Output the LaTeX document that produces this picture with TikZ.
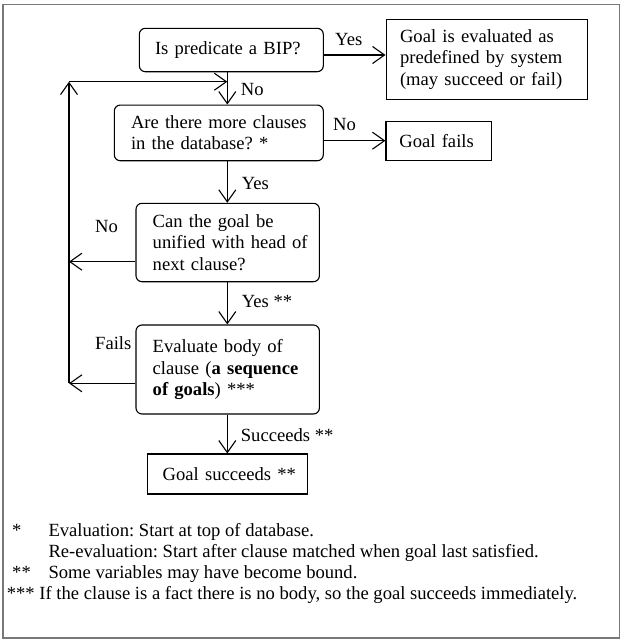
\documentclass[tikz,border=0pt]{standalone}
\usepackage{fontspec}
\setmainfont{Liberation Serif}
\usetikzlibrary{arrows.meta,calc}
\frenchspacing
\newcommand{\ml}[1]{\mbox{#1}}
\tikzset{
  rbox/.style={draw, line width=1.1pt, rounded corners=6pt, align=left, inner ysep=0pt, anchor=center},
  sbox/.style={draw, line width=1.1pt, align=left, inner ysep=0pt, anchor=center},
  arr/.style={line width=1.1pt, -{Straight Barb[length=12pt,width=17pt,line width=1.1pt]}},
  lbl/.style={anchor=west, inner sep=0pt},
  fn/.style={anchor=base west, inner sep=0pt},
}
\begin{document}
\begin{tikzpicture}[x=1pt,y=-1pt, font=\fontsize{18.6}{21.5}\selectfont]
\useasboundingbox (0,0) rectangle (624,643);
\draw[line width=1.5pt, color={rgb,255:red,120;green,120;blue,120}] (3,4.5) rectangle (619.5,638);

\coordinate (spine) at (227.3,0);
\coordinate (loopx) at (69,0);

\node[rbox, text width=152.6pt, inner xsep=15.7pt, minimum height=43.4pt] (b1) at (231.3,50) {\ml{Is predicate a BIP?}};
\node[rbox, text width=175.6pt, inner xsep=16.7pt, minimum height=55.7pt] (b2) at (218.8,132.9) {\ml{Are there more clauses}\\\ml{in the database? *}};
\node[sbox, text width=173.3pt, inner xsep=14pt, minimum height=80.3pt] (b3) at (486.7,59.2) {\ml{Goal is evaluated as}\\\ml{predefined by system}\\\ml{(may succeed or fail)}};
\node[sbox, text width=78.7pt, inner xsep=13.5pt, minimum height=39pt] (b4) at (438.8,141.2) {\ml{Goal fails}};
\node[rbox, text width=150pt, inner xsep=16.7pt, minimum height=78.4pt] (b5) at (227.7,242.5) {\ml{Can the goal be}\\\ml{unified with head of}\\\ml{next clause?}};
\node[rbox, text width=150pt, inner xsep=16.7pt, minimum height=89pt] (b6) at (227.7,369.5) {\ml{Evaluate body of}\\\ml{clause (\textbf{a sequence}}\\\ml{\textbf{of goals}) ***}};
\node[sbox, text width=129.6pt, inner xsep=15pt, minimum height=40pt] (b7) at (227.5,474) {\ml{Goal succeeds **}};

% main spine
\draw[arr] (b1.south -| spine) -- (b2.north -| spine);
\draw[arr] (b2.south -| spine) -- (b5.north -| spine);
\draw[arr] (b5.south -| spine) -- (b6.north -| spine);
\draw[arr] (b6.south -| spine) -- (b7.north -| spine);

% right branches
\draw[arr] ([yshift=-5pt]b1.east) coordinate (y1) -- (y1 -| b3.west);
\draw[arr] ([yshift=-7.8pt]b2.east) coordinate (y2) -- (y2 -| b4.west);

% loop back
\coordinate (l5) at ([yshift=-19.2pt]b5.west);
\coordinate (l6) at ([yshift=-13.8pt]b6.west);
\coordinate (looptop) at (69,81.7);
\draw[arr] (l5) -- (l5 -| loopx);
\draw[arr] (l6) -- (l6 -| loopx);
\draw[arr] (l6 -| loopx) -- (looptop);
\draw[arr] (looptop) -- (looptop -| spine);

% labels
\node[lbl] (t1) at (335,39) {Yes};
\node[lbl] (t2) at (240.7,89) {No};
\node[lbl] (t3) at (333,124) {No};
\node[lbl] (t4) at (241.7,183) {Yes};
\node[lbl] (t5) at (95,226) {No};
\node[lbl] (t6) at (241.7,301.7) {Yes **};
\node[lbl] (t7) at (95,342.7) {Fails};
\node[lbl] (t8) at (240.7,435) {Succeeds **};

% footnotes
\node[fn] (f1m) at (12,536) {*};
\node[fn] (f1) at (48.3,536) {Evaluation: Start at top of database.};
\node[fn] (f2) at (48.3,557) {Re-evaluation: Start after clause matched when goal last satisfied.};
\node[fn] (f3m) at (12,578) {**};
\node[fn] (f3) at (48.3,578) {Some variables may have become bound.};
\node[fn] (f4) at (6.7,599) {*** If the clause is a fact there is no body, so the goal succeeds immediately.};
\end{tikzpicture}
\end{document}
